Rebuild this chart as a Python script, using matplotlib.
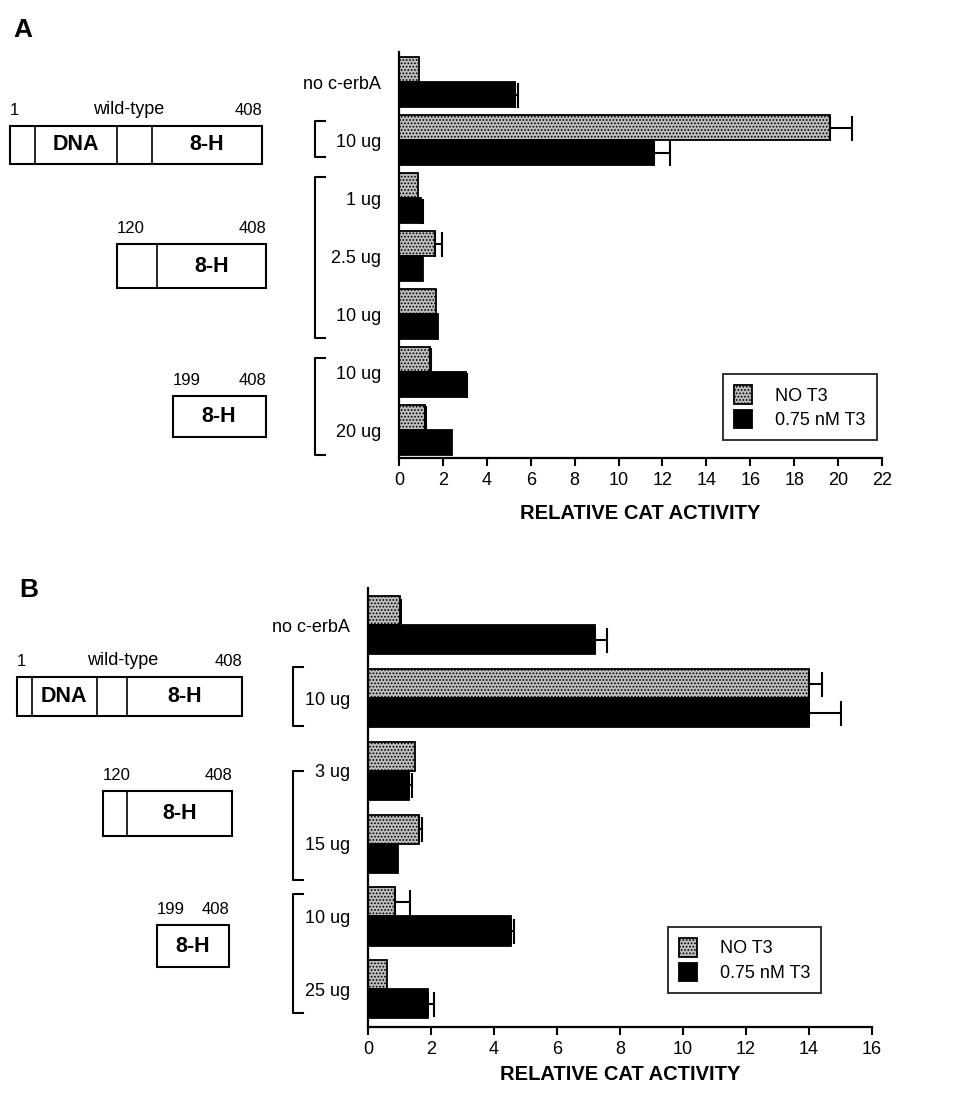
import matplotlib
matplotlib.use("Agg")
import matplotlib.pyplot as plt
from matplotlib.patches import Rectangle

plt.rcParams['font.family'] = ['Liberation Sans', 'DejaVu Sans']
plt.rcParams['hatch.linewidth'] = 0.8

# ---- panel A data ----
a_labels = ["no c-erbA", "10 ug", "1 ug", "2.5 ug", "10 ug", "10 ug", "20 ug"]
a_no_t3 = [0.9, 19.65, 0.85, 1.65, 1.7, 1.4, 1.2]
a_no_t3_err = [0, 1.0, 0, 0.3, 0, 0.05, 0.05]
a_t3 = [5.3, 11.6, 1.0, 1.1, 1.78, 3.05, 2.4]
a_t3_err = [0.1, 0.75, 0.1, 0, 0, 0.05, 0]
a_ticks = [0, 2, 4, 6, 8, 10, 12, 14, 16, 18, 20, 22]

# ---- panel B data ----
b_labels = ["no c-erbA", "10 ug", "3 ug", "15 ug", "10 ug", "25 ug"]
b_no_t3 = [1.0, 14.0, 1.5, 1.62, 0.86, 0.6]
b_no_t3_err = [0.05, 0.4, 0, 0.1, 0.47, 0]
b_t3 = [7.2, 14.0, 1.3, 0.95, 4.55, 1.9]
b_t3_err = [0.4, 1.0, 0.1, 0, 0.1, 0.2]
b_ticks = [0, 2, 4, 6, 8, 10, 12, 14, 16]

legend_names = ["NO T3", "0.75 nM T3"]
GRAY = '#bcbcbc'

fig = plt.figure(figsize=(9.7, 10.97), dpi=100)

# overlay in pixel coords for the construct diagrams
ov = fig.add_axes([0, 0, 1, 1])
ov.set_xlim(0, 970)
ov.set_ylim(1097, 0)
ov.axis('off')


def construct(x0, x1, y0, y1, divs, parts, left_num, right_num, top_label=None):
    ov.add_patch(Rectangle((x0, y0), x1 - x0, y1 - y0, fill=False, lw=1.5, ec='black'))
    for d in divs:
        ov.plot([d, d], [y0, y1], color='black', lw=1.2)
    ym = (y0 + y1) / 2
    for txt, xc in parts:
        ov.text(xc, ym, txt, ha='center', va='center', fontsize=15.5, fontweight='bold')
    yt = y0 - 8
    ov.text(x0, yt, left_num, ha='left', va='bottom', fontsize=12)
    ov.text(x1, yt, right_num, ha='right', va='bottom', fontsize=12)
    if top_label:
        ov.text((x0 + x1) / 2 - 7, yt, top_label, ha='center', va='bottom', fontsize=13)


ov.text(13, 30, "A", fontsize=19, fontweight='bold', ha='left', va='center')
construct(10, 262, 126, 164, [35, 117, 152], [("DNA", 76), ("8-H", 207)], "1", "408", "wild-type")
construct(117, 266, 244, 288, [157], [("8-H", 212)], "120", "408")
construct(173, 266, 396, 437, [], [("8-H", 219)], "199", "408")

ov.text(19, 590, "B", fontsize=19, fontweight='bold', ha='left', va='center')
construct(17, 242, 677, 716, [32, 97, 127], [("DNA", 64), ("8-H", 185)], "1", "408", "wild-type")
construct(103, 232, 791, 836, [127], [("8-H", 180)], "120", "408")
construct(157, 229, 925, 967, [], [("8-H", 193)], "199", "408")


def bar_panel(rect, labels, v0, e0, v1, e1, ticks, h, ylo, yhi, brackets, bx, leg_anchor, capsize, labelpad, tickfs):
    ax = fig.add_axes(rect)
    n = len(labels)
    ys = list(range(n))
    y0 = [y - h / 2 for y in ys]
    y1 = [y + h / 2 for y in ys]
    ax.barh(y0, v0, height=h, color=GRAY, edgecolor='black', hatch='.....', lw=1.3, label=legend_names[0])
    ax.barh(y1, v1, height=h, color='black', edgecolor='black', lw=1.3, label=legend_names[1])
    for yy, v, e in zip(y0 + y1, v0 + v1, e0 + e1):
        if e > 0:
            ax.errorbar([v], [yy], xerr=[[0], [e]], fmt='none', ecolor='black',
                        elinewidth=1.5, capsize=capsize, capthick=1.5)
    ax.set_xlim(ticks[0], ticks[-1])
    ax.set_ylim(yhi, ylo)
    ax.set_xticks(ticks)
    ax.tick_params(axis='x', direction='out', length=6, width=1.5, labelsize=tickfs, pad=4)
    ax.set_yticks(ys)
    ax.set_yticklabels(labels, fontsize=13)
    ax.tick_params(axis='y', length=0, pad=13)
    for s in ['top', 'right']:
        ax.spines[s].set_visible(False)
    for s in ['left', 'bottom']:
        ax.spines[s].set_linewidth(1.6)
    ax.set_xlabel("RELATIVE CAT ACTIVITY", fontsize=14.5, fontweight='bold', labelpad=labelpad)
    tr = ax.get_yaxis_transform()
    for top, bot in brackets:
        ax.plot([bx[1], bx[0], bx[0], bx[1]], [top, top, bot, bot], color='black',
                lw=1.5, transform=tr, clip_on=False)
    leg = ax.legend(loc='lower left', bbox_to_anchor=leg_anchor, fontsize=13, frameon=True,
                    fancybox=False, edgecolor='black', handlelength=1.0, handleheight=1.2,
                    handletextpad=1.3, borderpad=0.6, borderaxespad=0, labelspacing=0.3)
    leg.get_frame().set_linewidth(1.4)
    return ax


bar_panel([0.4113, 0.5825, 0.498, 0.370], a_labels, a_no_t3, a_no_t3_err, a_t3, a_t3_err,
          a_ticks, 0.43, -0.52, 6.48,
          [(0.67, 1.29), (1.64, 4.41), (4.76, 6.43)], (-0.174, -0.153),
          (0.671, 0.044), 9, 11, 13)

bar_panel([0.3794, 0.0638, 0.5196, 0.400], b_labels, b_no_t3, b_no_t3_err, b_t3, b_t3_err,
          b_ticks, 0.40, -0.51, 5.52,
          [(0.575, 1.386), (2.0, 3.5), (3.69, 5.33)], (-0.149, -0.129),
          (0.595, 0.0775), 9, 5, 13)

fig.savefig("out.png", dpi=100)
